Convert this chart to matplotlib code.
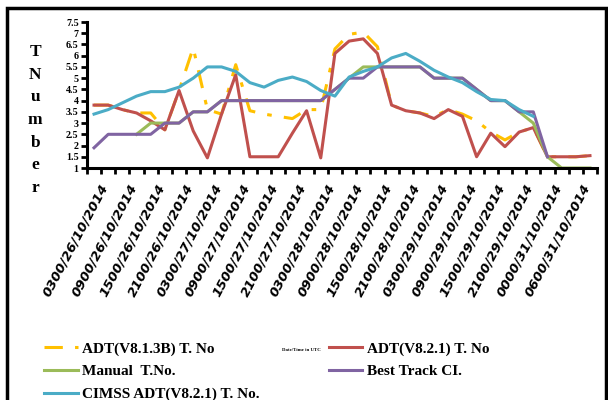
import numpy as np
import matplotlib
matplotlib.use('Agg')
import matplotlib.pyplot as plt
from matplotlib.patches import Rectangle

nan = np.nan

# date/time labels (every second category is labelled)
tick_labels = ['0300/26/10/2014', '0900/26/10/2014', '1500/26/10/2014', '2100/26/10/2014',
               '0300/27/10/2014', '0900/27/10/2014', '1500/27/10/2014', '2100/27/10/2014',
               '0300/28/10/2014', '0900/28/10/2014', '1500/28/10/2014', '2100/28/10/2014',
               '0300/29/10/2014', '0900/29/10/2014', '1500/29/10/2014', '2100/29/10/2014',
               '0000/31/10/2014', '0600/31/10/2014']

adt_813b = [3.8, 3.8, 3.6, 3.45, 3.45, 2.7, 4.45, 6.35, 3.6, 3.4, 5.6, 3.55,
            3.4, 3.3, 3.2, 3.6, 3.6, 6.3, 6.95, 7.05, 6.4, 3.8, 3.55, 3.45,
            3.3, 3.6, 3.4, 3.1, 2.6, 2.25, 2.6, 2.8, 1.5, 1.5, 1.5, 1.55]
adt_821 = [3.8, 3.8, 3.6, 3.45, 3.1, 2.7, 4.45, 2.65, 1.45, 3.4, 5.15, 1.5,
           1.5, 1.5, 2.55, 3.55, 1.45, 6.1, 6.65, 6.75, 6.1, 3.8, 3.55, 3.45,
           3.2, 3.6, 3.3, 1.5, 2.55, 1.95, 2.6, 2.8, 1.5, 1.5, 1.5, 1.55]
manual = [nan, nan, nan, 2.5, 3.0, 3.0, 3.0, 3.5, 3.5, 4.0, 4.0, 4.0,
          4.0, 4.0, 4.0, 4.0, 4.0, 4.5, 5.0, 5.5, 5.5, 5.5, 5.5, 5.5,
          5.0, 5.0, 5.0, 4.5, 4.0, 4.0, 3.5, 3.0, 1.5, 1.0, 1.0, 1.0]
best_track = [1.9, 2.5, 2.5, 2.5, 2.5, 3.0, 3.0, 3.5, 3.5, 4.0, 4.0, 4.0,
              4.0, 4.0, 4.0, 4.0, 4.0, 4.5, 5.0, 5.0, 5.5, 5.5, 5.5, 5.5,
              5.0, 5.0, 5.0, 4.5, 4.0, 4.0, 3.5, 3.5, 1.5, nan, nan, nan]
cimss = [3.4, 3.6, 3.9, 4.2, 4.4, 4.4, 4.6, 5.0, 5.5, 5.5, 5.3, 4.8,
         4.6, 4.9, 5.05, 4.85, 4.45, 4.2, 5.05, 5.3, 5.5, 5.9, 6.1, 5.75,
         5.35, 5.05, 4.8, 4.4, 4.05, 4.0, 3.6, 3.3, nan, nan, nan, nan]

x = np.arange(len(adt_821))
serif = 'Liberation Serif'

fig = plt.figure(figsize=(6.08, 4.0), dpi=100)
ax = fig.add_axes([0.143, 0.58, 0.839, 0.365])

lw = 2.2
l1, = ax.plot(x, adt_813b, color='#FFC000', lw=lw, dashes=(6, 4, 1.5, 4), label='ADT(V8.1.3B) T. No')
l2, = ax.plot(x, adt_821, color='#C0504D', lw=lw, label='ADT(V8.2.1) T. No')
l3, = ax.plot(x, manual, color='#9BBB59', lw=lw, label='Manual  T.No.')
l4, = ax.plot(x, best_track, color='#8064A2', lw=lw, label='Best Track CI.')
l5, = ax.plot(x, cimss, color='#4BACC6', lw=lw, label='CIMSS ADT(V8.2.1) T. No.')

ax.set_xlim(-0.5, len(x) - 0.5)
ax.set_ylim(1, 7.5)
ax.set_yticks(np.arange(1, 7.51, 0.5))
ax.set_yticklabels([('%g' % v) for v in np.arange(1, 7.51, 0.5)],
                   fontfamily=serif, fontweight='bold', fontsize=7.2)
ax.set_xticks(np.arange(-0.5, len(x), 1.0))
ax.set_xticklabels([])
ax.tick_params(axis='both', direction='out', length=4, width=2, color='black')
ax.tick_params(axis='y', pad=2)

for i, lab in enumerate(tick_labels):
    ax.annotate(lab, xy=(2 * i, 1), xycoords='data', xytext=(4, -10), textcoords='offset points',
                ha='right', va='top', rotation=62, rotation_mode='anchor',
                fontsize=9.5, fontweight='bold', style='italic')

for s in ['top', 'right']:
    ax.spines[s].set_visible(False)
for s in ['left', 'bottom']:
    ax.spines[s].set_linewidth(2.2)

# stacked y label
fig.text(0.058, 0.70, 'T\nN\nu\nm\nb\ne\nr', ha='center', va='center',
         fontsize=12.5, fontfamily=serif, fontweight='bold', linespacing=1.55)

fig.text(0.495, 0.125, 'Date/Time in UTC', ha='center', va='center',
         fontsize=3.5, fontfamily=serif, fontweight='bold')

fig.legend(handles=[l1, l3, l5, l2, l4], loc='upper left', bbox_to_anchor=(0.06, 0.165),
           ncol=2, frameon=False, handlelength=2.2, handletextpad=0.3,
           columnspacing=4.5, labelspacing=0.6, borderpad=0,
           prop={'family': serif, 'weight': 'bold', 'size': 11})

fig.patches.append(Rectangle((0.012, -0.01), 0.985, 0.99, transform=fig.transFigure,
                             fill=False, edgecolor='black', lw=2.5))

plt.savefig('out.png', dpi=100)
